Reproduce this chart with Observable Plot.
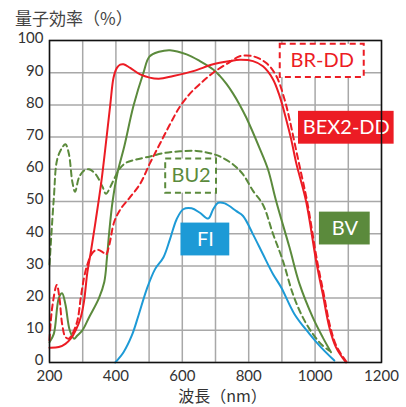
<!DOCTYPE html>
<html><head><meta charset="utf-8">
<script src="https://cdn.jsdelivr.net/npm/d3@7"></script>
<script src="https://cdn.jsdelivr.net/npm/@observablehq/plot@0.6"></script>
<style>
body{margin:0;background:#fff;}
#title{height:30px;box-sizing:border-box;padding:8px 0 0 15px;font:17px/19px 'Noto Sans CJK JP',sans-serif;color:#444;}
</style>
</head><body>
<div id="title">量子効率（%）</div>
<div id="chart"></div>
<script>
// ---- data ----
const xTicks = [200,300,400,500,600,700,800,900,1000,1100,1200];
const xTickLabels = [200,400,600,800,1000,1200];
const yTicks = [0,10,20,30,40,50,60,70,80,90,100];
const xLabel = "波長（nm）";

const bvNm = [200,213,228,238,248,261,274,284,299,319,349,365,373,380,390,405,425,453,483,501,530,563,613,653,693,713,733,753,773,793,833,858,883,923,953,993,1023,1048];
const bvQe = [6.3,8.9,20,21.5,18,10,7.4,8.4,10,14,20,25,32.4,40.6,50,59,67,79.7,90,95,96.5,97,95.7,93.6,91,89,86.5,83.5,80,76,66.5,60,50,35.7,24.4,14,7.8,3.2];

const bu2Nm = [200,213,223,238,248,258,269,277,289,304,319,339,360,370,390,410,430,460,503,543,593,643,683,713,753,783,813,843,873,903,933,963,993,1020,1043];
const bu2Qe = [30.4,51,63,66.7,67.8,65,56,53,57.5,59.6,60,58.5,54.5,52.4,56,60,62,63,64,65,65.6,65.7,65,64,61.5,58.4,53.3,49,40,31.6,21.3,14,8.9,5.5,3.7];

const bexNm = [200,228,248,264,279,294,304,314,324,339,356,372,383,393,403,413,423,443,473,528,573,633,693,743,773,813,843,873,893,913,928,943,973,1003,1023,1043,1063,1093];
const bexQe = [4.6,4.8,5.8,7.4,10,14,19,28,34,44,56,70,80,88.5,91.5,92.5,92.6,91.5,89.5,88.1,89,90.5,92.6,93.6,94,93.6,92,88,82.8,75.5,69.3,62,50,31.6,21.3,10.9,4.7,0];

const brNm = [200,208,222,230,238,248,258,269,284,294,304,314,329,344,360,370,380,395,415,440,473,503,533,563,593,623,653,693,743,773,813,853,883,908,923,938,953,976,1006,1026,1046,1066,1096];
const brQe = [6.9,17,24.1,20,12,7.9,7.4,8.9,13,20,26.3,30.4,34,35,34.3,33.5,36.5,43.7,47.8,51,55.5,62,68,74,79.5,83.5,86.5,90,93.3,95.1,95.1,93,89,81.7,75.5,68.3,61.1,50,31.6,21.3,10.9,4.7,0];

const fiNm = [398,423,448,468,493,518,543,563,583,603,628,653,678,693,708,728,763,783,813,843,873,898,938,983,1018,1058];
const fiQe = [0,3.2,8.4,14.6,22.8,29,32.6,38.3,44.5,47.6,47.9,46.5,44.7,47.6,49.6,49.4,47,45.5,39.8,33.6,27.5,23.3,15,8.9,4.7,0.6];

const labelNames = ["BR-DD","BEX2-DD","BU2","FI","BV"];

// ---- layout / style (annotation placement in data units) ----
const RED = "#ec1c24", GREEN = "#5b8a3c", BLUE = "#1d9ad6";
const boxes = {
  "BR-DD":   {x1:895, x2:1148, y1:88.5, y2:98.8, fill:"#fff", stroke:RED, dash:"6,4", text:RED},
  "BEX2-DD": {x1:950, x2:1238, y1:67.8, y2:78.0, fill:RED, stroke:"none", dash:null, text:"#fff"},
  "BU2":     {x1:550, x2:703,  y1:52.6, y2:63.2, fill:"#fff", stroke:GREEN, dash:"6,4", text:GREEN},
  "FI":      {x1:596, x2:743,  y1:33.1, y2:43.3, fill:BLUE, stroke:"none", dash:null, text:"#fff"},
  "BV":      {x1:1013,x2:1166, y1:36.5, y2:46.7, fill:GREEN, stroke:"none", dash:null, text:"#fff"}
};

const toRows = (xs, ys) => xs.map((x, i) => ({x, y: ys[i]}));
const series = [
  {rows: toRows(bvNm, bvQe), stroke: GREEN, dash: null},
  {rows: toRows(bu2Nm, bu2Qe), stroke: GREEN, dash: "6,4"},
  {rows: toRows(fiNm, fiQe), stroke: BLUE, dash: null},
  {rows: toRows(brNm, brQe), stroke: RED, dash: "6,4"},
  {rows: toRows(bexNm, bexQe), stroke: RED, dash: null}
];

const marks = [
  Plot.gridX(xTicks, {stroke: "#a8a8a8", strokeOpacity: 1, strokeWidth: 1.5}),
  Plot.gridY(yTicks, {stroke: "#a8a8a8", strokeOpacity: 1, strokeWidth: 1.5}),
  Plot.axisX({ticks: xTickLabels, tickSize: 0, tickPadding: 8, tickFormat: "d", label: null}),
  Plot.axisY({ticks: yTicks, tickSize: 0, tickPadding: 6, dy: -2, label: null}),
  Plot.text([xLabel], {frameAnchor: "bottom", lineAnchor: "middle", dy: 34, dx: 7, text: d => d, fontSize: 16, fill: "#333", fontFamily: "'Noto Sans CJK JP', Lato, sans-serif"})
];
for (const s of series) {
  marks.push(Plot.line(s.rows, {x: "x", y: "y", stroke: s.stroke, strokeWidth: 2, strokeDasharray: s.dash, curve: "catmull-rom"}));
}
for (const name of labelNames) {
  const b = boxes[name];
  marks.push(Plot.rect([b], {x1: "x1", x2: "x2", y1: "y1", y2: "y2", fill: b.fill, stroke: b.stroke, strokeWidth: 2, strokeDasharray: b.dash}));
  marks.push(Plot.text([b], {x: d => (d.x1 + d.x2) / 2, y: d => (d.y1 + d.y2) / 2, text: () => name, fill: b.text, fontSize: 20, fontFamily: "Lato"}));
}
marks.push(Plot.frame({stroke: "#111", strokeWidth: 1.5}));

const chart = Plot.plot({
  width: 406, height: 377,
  marginTop: 10, marginLeft: 49, marginRight: 25, marginBottom: 45,
  x: {domain: [200, 1200]},
  y: {domain: [0, 100]},
  style: {fontFamily: "Lato, 'Noto Sans CJK JP', sans-serif", fontSize: "15px", color: "#333", background: "#fff", overflow: "visible"},
  marks
});
document.getElementById("chart").appendChild(chart);
</script>
</body></html>
